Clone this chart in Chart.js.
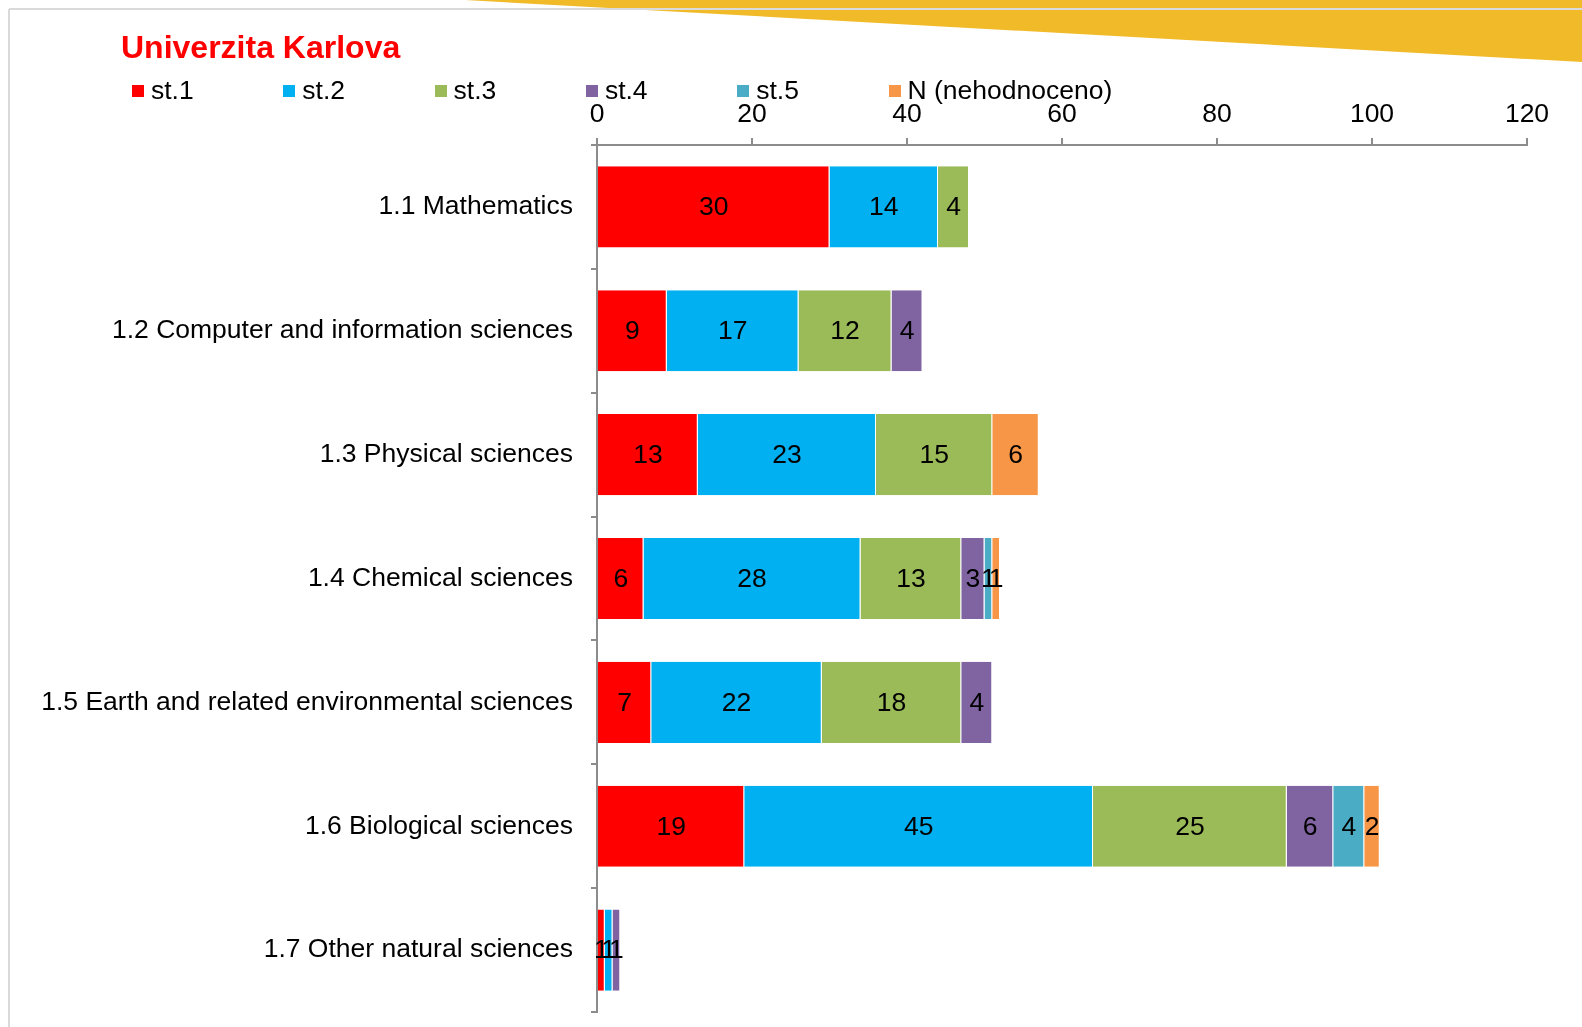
<!DOCTYPE html>
<html>
<head>
<meta charset="utf-8">
<script src="https://cdn.jsdelivr.net/npm/chart.js@4.4.1/dist/chart.umd.min.js"></script>
<style>
html, body { margin: 0; padding: 0; background: #fff; overflow: hidden; }
#wrap { position: relative; width: 1582px; height: 1027px; font-family: "Liberation Sans", Arial, sans-serif; }
#deco, #chart { position: absolute; left: 0; top: 0; }
#title { position: absolute; left: 121px; top: 29px; font-size: 32px; font-weight: bold; color: #ff0000; line-height: 37px; white-space: nowrap; }
.item { position: absolute; top: 75px; height: 30px; font-size: 26.5px; line-height: 30px; color: #000; white-space: nowrap; }
.item span.box { position: absolute; left: 0; top: 10px; width: 12px; height: 12px; }
.item span.txt { position: absolute; left: 19px; top: 0; }
</style>
</head>
<body>
<div id="wrap">
  <svg id="deco" width="1582" height="1027">
    <polygon points="465,0 1582,0 1582,62" fill="#f0ba28"/>
    <line x1="9" y1="9" x2="1582" y2="9" stroke="#dadada" stroke-width="2"/>
    <line x1="9" y1="9" x2="9" y2="1027" stroke="#dadada" stroke-width="2"/>
  </svg>
  <canvas id="chart" width="1582" height="1027"></canvas>
  <div id="title">Univerzita Karlova</div>
  <div id="legend"></div>
</div>
<script>
// obory (kategorie)
var categories = [
  "1.1 Mathematics",
  "1.2 Computer and information sciences",
  "1.3 Physical sciences",
  "1.4 Chemical sciences",
  "1.5 Earth and related environmental sciences",
  "1.6 Biological sciences",
  "1.7 Other natural sciences"
];

var seriesNames = ["st.1", "st.2", "st.3", "st.4", "st.5", "N (nehodnoceno)"];
var seriesColors = ["#ff0000", "#00b0f0", "#9bbb59", "#8064a2", "#4bacc6", "#f79646"];

// hodnoty po serii, poradi jako categories
var st1 = [30, 9, 13, 6, 7, 19, 1];
var st2 = [14, 17, 23, 28, 22, 45, 1];
var st3 = [4, 12, 15, 13, 18, 25, 0];
var st4 = [0, 4, 0, 3, 4, 6, 1];
var st5 = [0, 0, 0, 1, 0, 4, 0];
var stN = [0, 0, 6, 1, 0, 2, 0];

var xTicks = [0, 20, 40, 60, 80, 100, 120];

var seriesValues = [st1, st2, st3, st4, st5, stN];
var fontFamily = '"Liberation Sans", Arial, sans-serif';

// legenda v html, pevne rozestupy
var legend = document.getElementById("legend");
seriesNames.forEach(function (name, i) {
  var it = document.createElement("div");
  it.className = "item";
  it.style.left = (132 + i * 151.3) + "px";
  it.innerHTML = '<span class="box" style="background:' + seriesColors[i] + '"></span><span class="txt">' + name + '</span>';
  legend.appendChild(it);
});

var valueLabels = {
  id: "valueLabels",
  afterDatasetsDraw: function (chart) {
    var c = chart.ctx;
    c.save();
    c.font = "26.5px " + fontFamily;
    c.fillStyle = "#000";
    c.textAlign = "center";
    c.textBaseline = "middle";
    chart.data.datasets.forEach(function (ds, i) {
      chart.getDatasetMeta(i).data.forEach(function (bar, j) {
        var v = ds.data[j];
        if (!v) return;
        c.fillText(v, (bar.x + bar.base) / 2, bar.y + 1);
      });
    });
    c.restore();
  }
};

var ctx = document.getElementById("chart");

var chart = new Chart(ctx, {
  type: "bar",
  data: {
    labels: categories,
    datasets: seriesNames.map(function (name, i) {
      return {
        label: name,
        data: seriesValues[i],
        backgroundColor: seriesColors[i],
        borderColor: "#ffffff",
        borderWidth: { top: 0, bottom: 0, left: 0, right: 1 },
        barPercentage: 0.655,
        categoryPercentage: 1
      };
    })
  },
  options: {
    indexAxis: "y",
    responsive: false,
    animation: false,
    layout: { padding: { top: 95, bottom: 15, left: 0, right: 55 } },
    plugins: {
      legend: { display: false },
      tooltip: { enabled: false }
    },
    scales: {
      x: {
        position: "top",
        stacked: true,
        min: 0,
        max: 120,
        afterBuildTicks: function (s) {
          s.ticks = xTicks.map(function (v) { return { value: v }; });
        },
        afterFit: function (s) { s.height = 50; s.paddingLeft = 0; s.paddingRight = 0; },
        ticks: { padding: 7, color: "#000", font: { size: 26.5, family: fontFamily } },
        grid: { drawOnChartArea: false, tickLength: 7, color: "#8c8c8c", lineWidth: 2 },
        border: { color: "#8c8c8c", width: 2 }
      },
      y: {
        stacked: true,
        afterFit: function (s) { s.width = 597; s.paddingTop = 0; s.paddingBottom = 0; },
        ticks: { padding: 18, color: "#000", font: { size: 26.5, family: fontFamily } },
        grid: { drawOnChartArea: false, offset: true, tickLength: 6, color: "#8c8c8c", lineWidth: 2 },
        border: { color: "#8c8c8c", width: 2 }
      }
    }
  },
  plugins: [valueLabels]
});
</script>
</body>
</html>
